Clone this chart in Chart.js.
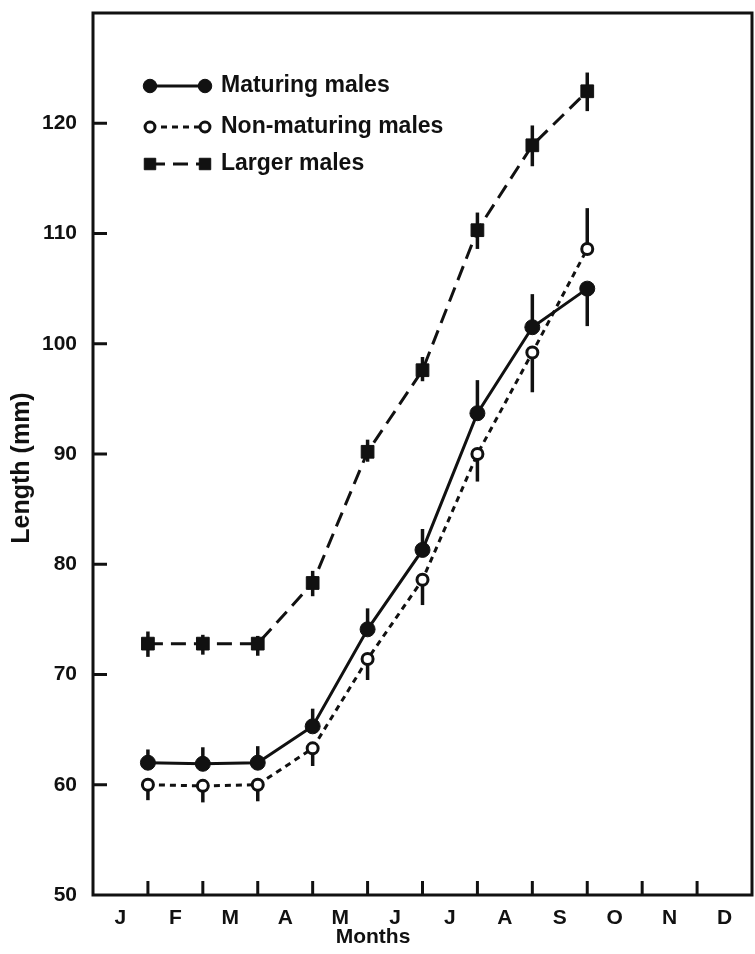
<!DOCTYPE html>
<html>
<head>
<meta charset="utf-8">
<script src="https://cdn.jsdelivr.net/npm/chart.js@4.4.0/dist/chart.umd.min.js"></script>
<style>
html,body{margin:0;padding:0;background:#ffffff;}
#wrap{width:755px;height:954px;}
</style>
</head>
<body>
<div id="wrap"><canvas id="c" width="755" height="954"></canvas></div>
<script>
// ---- data ----
const monthLabels = ['J','F','M','A','M','J','J','A','S','O','N','D'];
const sampleMonths = [1, 2, 3, 4, 5, 6, 7, 8, 9];
const yTickValues = [50, 60, 70, 80, 90, 100, 110, 120];

const maturingMean = [62.0, 61.9, 62.0, 65.3, 74.1, 81.3, 93.7, 101.5, 105.0];
const maturingLow  = [62.0, 61.9, 62.0, 65.3, 74.1, 81.3, 93.7, 101.5, 101.6];
const maturingHigh = [63.2, 63.4, 63.5, 66.9, 76.0, 83.2, 96.7, 104.5, 105.0];

const nonMean = [60.0, 59.9, 60.0, 63.3, 71.4, 78.6, 90.0, 99.2, 108.6];
const nonLow  = [58.6, 58.4, 58.5, 61.7, 69.5, 76.3, 87.5, 95.6, 108.6];
const nonHigh = [60.0, 59.9, 60.0, 63.3, 71.4, 78.6, 90.0, 99.2, 112.3];

const largerMean = [72.8, 72.8, 72.8, 78.3, 90.2, 97.6, 110.3, 118.0, 122.9];
const largerLow  = [71.6, 71.8, 71.7, 77.1, 89.3, 96.6, 108.6, 116.1, 121.1];
const largerHigh = [73.9, 73.6, 73.5, 79.4, 91.3, 98.8, 111.9, 119.8, 124.6];

const seriesNames = ['Maturing males', 'Non-maturing males', 'Larger males'];
const xTitle = 'Months';
const yTitle = 'Length (mm)';

// ---- build ----
const INK = '#111111';
const FONT = "'Liberation Sans', Arial, sans-serif";
const toXY = arr => arr.map((v, i) => ({x: sampleMonths[i], y: v}));

const errorSets = [
  {low: maturingLow, high: maturingHigh},
  {low: nonLow, high: nonHigh},
  {low: largerLow, high: largerHigh}
];

const errorBarPlugin = {
  id: 'errorBars',
  beforeDatasetsDraw(chart) {
    const {ctx, scales: {x, y}} = chart;
    ctx.save();
    ctx.strokeStyle = INK;
    ctx.lineWidth = 3.5;
    ctx.lineCap = 'butt';
    errorSets.forEach(set => {
      set.low.forEach((lo, i) => {
        const px = x.getPixelForValue(sampleMonths[i]);
        ctx.beginPath();
        ctx.moveTo(px, y.getPixelForValue(lo));
        ctx.lineTo(px, y.getPixelForValue(set.high[i]));
        ctx.stroke();
      });
    });
    ctx.restore();
  }
};

const framePlugin = {
  id: 'frame',
  afterDraw(chart) {
    const {ctx, chartArea: a, scales: {x, y}} = chart;
    ctx.save();
    ctx.strokeStyle = INK;
    ctx.lineWidth = 3;
    ctx.strokeRect(a.left, a.top, a.right - a.left, a.bottom - a.top);
    // inward tick marks
    for (let m = 1; m <= 11; m++) {
      const px = x.getPixelForValue(m);
      ctx.beginPath(); ctx.moveTo(px, a.bottom); ctx.lineTo(px, a.bottom - 14); ctx.stroke();
    }
    yTickValues.forEach(v => {
      if (v === 50) return;
      const py = y.getPixelForValue(v);
      ctx.beginPath(); ctx.moveTo(a.left, py); ctx.lineTo(a.left + 14, py); ctx.stroke();
    });
    // axis titles
    ctx.fillStyle = INK;
    ctx.textAlign = 'center';
    ctx.textBaseline = 'middle';
    ctx.font = "bold 21px " + FONT;
    ctx.fillText(xTitle, 373, 937);
    ctx.font = "bold 25px " + FONT;
    ctx.translate(22, 468);
    ctx.rotate(-Math.PI / 2);
    ctx.fillText(yTitle, 0, 0);
    ctx.restore();
  }
};

const legendRows = [86, 127, 164];
const legendPlugin = {
  id: 'innerLegend',
  afterDraw(chart) {
    const {ctx} = chart;
    ctx.save();
    chart.data.datasets.forEach((ds, i) => {
      const yy = legendRows[i];
      const x1 = 150, x2 = 205;
      ctx.strokeStyle = INK;
      ctx.lineWidth = 3;
      ctx.setLineDash(ds.borderDash || []);
      ctx.beginPath(); ctx.moveTo(x1, yy); ctx.lineTo(x2, yy); ctx.stroke();
      ctx.setLineDash([]);
      [x1, x2].forEach(px => {
        ctx.fillStyle = ds.pointBackgroundColor;
        ctx.strokeStyle = ds.pointBorderColor;
        ctx.lineWidth = ds.pointBorderWidth;
        Chart.helpers.drawPoint(ctx, {
          pointStyle: ds.pointStyle, radius: ds.pointRadius * 0.9,
          rotation: 0, borderWidth: ds.pointBorderWidth
        }, px, yy);
      });
      ctx.fillStyle = INK;
      ctx.font = "bold 23px " + FONT;
      ctx.textAlign = 'left';
      ctx.textBaseline = 'middle';
      ctx.fillText(ds.label, 221, yy);
    });
    ctx.restore();
  }
};

new Chart(document.getElementById('c'), {
  type: 'line',
  data: {
    datasets: [
      {
        label: seriesNames[0], data: toXY(maturingMean),
        borderColor: INK, borderWidth: 3, tension: 0,
        pointStyle: 'circle', pointRadius: 7.5,
        pointBackgroundColor: INK, pointBorderColor: INK, pointBorderWidth: 1
      },
      {
        label: seriesNames[1], data: toXY(nonMean),
        borderColor: INK, borderWidth: 3, borderDash: [6, 5], tension: 0,
        pointStyle: 'circle', pointRadius: 5.5,
        pointBackgroundColor: '#ffffff', pointBorderColor: INK, pointBorderWidth: 3
      },
      {
        label: seriesNames[2], data: toXY(largerMean),
        borderColor: INK, borderWidth: 3, borderDash: [15, 8], tension: 0,
        pointStyle: 'rect', pointRadius: 9,
        pointBackgroundColor: INK, pointBorderColor: INK, pointBorderWidth: 1
      }
    ]
  },
  options: {
    responsive: false,
    animation: false,
    devicePixelRatio: 1,
    layout: {autoPadding: false, padding: {top: 13, right: 3, left: 0, bottom: 0}},
    plugins: {legend: {display: false}, tooltip: {enabled: false}},
    scales: {
      x: {
        type: 'linear', min: 0, max: 12,
        grid: {display: false}, border: {display: false},
        afterBuildTicks: s => { s.ticks = monthLabels.map((m, i) => ({value: i + 0.5})); },
        afterFit: s => { s.height = 59; s.paddingLeft = 0; s.paddingRight = 0; },
        ticks: {
          autoSkip: false, maxRotation: 0, padding: 3, color: INK,
          font: {family: FONT, size: 21, weight: 'bold'},
          callback: (v, i) => monthLabels[i]
        }
      },
      y: {
        type: 'linear', min: 50, max: 130,
        grid: {display: false}, border: {display: false},
        afterBuildTicks: s => { s.ticks = yTickValues.map(v => ({value: v})); },
        afterFit: s => { s.width = 93; s.paddingTop = 0; s.paddingBottom = 0; },
        ticks: {
          padding: 8, color: INK,
          font: {family: FONT, size: 21, weight: 'bold'}
        }
      }
    }
  },
  plugins: [errorBarPlugin, framePlugin, legendPlugin]
});
</script>
</body>
</html>
